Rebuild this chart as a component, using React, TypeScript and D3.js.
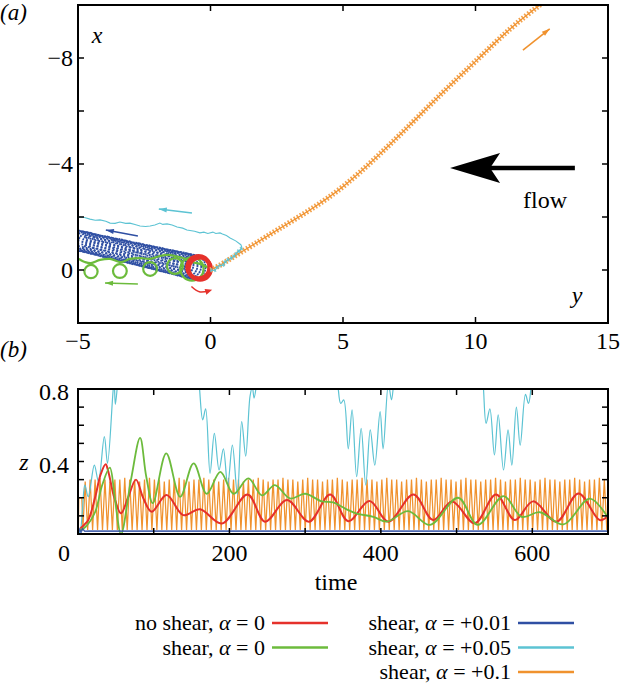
import React from 'react';
import * as d3 from 'd3';

// ---------- panel (a): trajectories in the (y, x) plane ----------
const A_H_DOMAIN = [-5, 15];
const A_V_DOMAIN = [-10, 2];
const A_H_TICKS = [-5, 0, 5, 10, 15];
const A_H_LABELS = ['−5', '0', '5', '10', '15'];
const A_V_TICKS = [-8, -6, -4, -2, 0];
const A_V_LABELS: [number, string][] = [[-8, '−8'], [-4, '−4'], [0, '0']];

// orange (alpha = +0.1): drift path
const ORANGE_TRACK: [number, number][] = [
  [0, 0], [0.25, -0.11], [0.85, -0.49], [1.6, -0.94], [2.51, -1.51], [3.75, -2.25],
  [5.0, -3.1], [6.28, -4.26], [7.53, -5.47], [8.77, -6.72], [10.06, -7.92],
  [11.3, -9.13], [12.43, -10], [13.2, -10.6],
];
// cyan (alpha = +0.05)
const CYAN_TRACK_WIGGLE: [number, number][] = [
  [0, 0], [0.17, 0.0], [0.3, -0.15], [0.47, -0.19], [0.6, -0.35], [0.85, -0.49], [0.95, -0.6], [1.19, -0.83],
];
const CYAN_TRACK: [number, number][] = [
  [1.19, -0.83], [1.15, -0.95], [1.11, -0.98], [0.95, -1.1], [0.74, -1.21], [0.6, -1.3], [0.45, -1.36],
  [0.36, -1.4], [0.2, -1.38], [0.09, -1.43], [-0.1, -1.38], [-0.25, -1.43], [-0.4, -1.4],
  [-0.6, -1.46], [-0.89, -1.51], [-1.05, -1.58], [-1.26, -1.62], [-1.45, -1.7], [-1.64, -1.74],
  [-1.8, -1.72], [-1.91, -1.77], [-2.1, -1.7], [-2.28, -1.66], [-2.45, -1.64], [-2.66, -1.66],
  [-2.85, -1.72], [-3.04, -1.77], [-3.2, -1.76], [-3.42, -1.81], [-3.6, -1.76], [-3.79, -1.77],
  [-3.95, -1.84], [-4.17, -1.89], [-4.35, -1.88], [-4.55, -1.92], [-4.75, -1.98], [-4.92, -2.0], [-5.1, -2.0],
];
// dark blue (alpha = +0.01): loop centres [y, x, radius]
const BLUE_LOOPS: [number, number, number][] = [
  [-0.50, -0.08, 0.46], [-0.65, -0.11, 0.46], [-0.80, -0.15, 0.45], [-0.94, -0.18, 0.45],
  [-1.09, -0.22, 0.45], [-1.24, -0.25, 0.44], [-1.38, -0.28, 0.44], [-1.53, -0.32, 0.44],
  [-1.68, -0.35, 0.43], [-1.82, -0.38, 0.43], [-1.97, -0.42, 0.43], [-2.12, -0.45, 0.42],
  [-2.26, -0.49, 0.42], [-2.41, -0.52, 0.42], [-2.56, -0.55, 0.41], [-2.70, -0.59, 0.41],
  [-2.85, -0.62, 0.41], [-3.00, -0.65, 0.40], [-3.14, -0.69, 0.40], [-3.29, -0.72, 0.40],
  [-3.44, -0.76, 0.40], [-3.58, -0.79, 0.39], [-3.73, -0.82, 0.39], [-3.88, -0.86, 0.39],
  [-4.02, -0.89, 0.39], [-4.17, -0.92, 0.38], [-4.32, -0.96, 0.38], [-4.46, -0.99, 0.38],
  [-4.61, -1.03, 0.38], [-4.75, -1.06, 0.38], [-4.90, -1.09, 0.38], [-5.05, -1.12, 0.38],
];
// green (shear, alpha = 0): chain and loops
const GREEN_CHAIN: [number, number][] = [
  [0.0, -0.04], [-0.4, -0.23], [-0.7, -0.3], [-1.04, -0.45], [-1.34, -0.53], [-1.6, -0.57],
  [-1.91, -0.53], [-2.28, -0.42], [-2.66, -0.45], [-3.04, -0.42], [-3.38, -0.3], [-3.79, -0.42],
  [-4.17, -0.38], [-4.51, -0.26], [-4.74, -0.3], [-5.0, -0.42], [-5.2, -0.45],
];
const GREEN_LOOPS: [number, number, number][] = [
  [-4.51, 0.06, 0.25], [-3.42, 0.04, 0.26], [-2.28, -0.04, 0.26], [-1.34, -0.15, 0.3], [-0.7, -0.04, 0.44],
];
// red (no shear, alpha = 0): ring
const RED_RING: [number, number, number] = [-0.45, -0.1, 0.42];
const RED_TURN: [number, number][] = [[-0.72, 0.62], [-0.42, 0.82], [-0.05, 0.78]];

// direction arrows [from, to]
const ARROWS_A: { c: string; from: [number, number]; to: [number, number] }[] = [
  { c: '#5cc3d3', from: [-0.70, -2.15], to: [-1.95, -2.3] },
  { c: '#2f4fa3', from: [-2.74, -1.28], to: [-3.95, -1.51] },
  { c: '#6cbb3c', from: [-2.74, 0.53], to: [-3.98, 0.49] },
  { c: '#f0922e', from: [11.79, -8.3], to: [12.8, -9.1] },
];
const FLOW_FROM: [number, number] = [13.75, -3.85];
const FLOW_TO: [number, number] = [9.04, -3.85];

// ---------- panel (b): z versus time ----------
const T_DOMAIN = [0, 700];
const Z_DOMAIN = [0, 0.8];
const T_TICKS = [100, 200, 300, 400, 500, 600];
const T_LABELS = [0, 200, 400, 600];
const Z_TICKS = [0.1, 0.2, 0.3, 0.4, 0.5, 0.6, 0.7];
const Z_LABELS: [number, string][] = [[0.4, '0.4'], [0.8, '0.8']];

const RED_Z: [number, number][] = [
  [3, 0.03], [8, 0.05], [13.6, 0.077], [22.5, 0.2], [30, 0.33], [36.5, 0.385], [40, 0.345],
  [48, 0.2], [56.8, 0.114], [66, 0.2], [76.6, 0.3], [86, 0.2], [97.3, 0.123], [117, 0.215],
  [139, 0.104], [161, 0.137], [190, 0.058], [224, 0.218], [247, 0.068], [276, 0.187],
  [305, 0.068], [333, 0.218], [357, 0.071], [385, 0.182], [410, 0.068], [443, 0.218],
  [469, 0.077], [494, 0.18], [524, 0.059], [552, 0.218], [577, 0.077], [601, 0.18],
  [632, 0.068], [661, 0.224], [689, 0.077], [700, 0.1],
];
const GREEN_Z: [number, number][] = [
  [3, 0.02], [10, 0.04], [22.5, 0.12], [32, 0.27], [42, 0.366], [48.6, 0.2], [56.8, 0.0],
  [70, 0.3], [82, 0.53], [90, 0.32], [98.8, 0.17], [116.5, 0.445], [135, 0.205], [152.7, 0.39],
  [170, 0.222], [188, 0.343], [205.5, 0.222], [225, 0.307], [243, 0.213], [260, 0.27],
  [280, 0.196], [300, 0.222], [322, 0.18], [337, 0.175], [353, 0.14], [368, 0.113],
  [390, 0.095], [408, 0.068], [436, 0.126], [465, 0.05], [502, 0.2], [528, 0.05],
  [562, 0.209], [586, 0.095], [610, 0.12], [641, 0.053], [676, 0.195], [700, 0.09],
];
const CYAN_Z: [number, number][] = [
  [0, 0.0], [2.6, 0.01], [5.7, 0.124], [9, 0.27], [13.6, 0.206], [21.6, 0.38], [27, 0.29],
  [34.8, 0.537], [39, 0.39], [46.6, 0.8], [47.8, 0.83], [49.3, 0.715], [52.4, 0.83], [56, 0.95],
  [157, 0.95], [160, 0.83], [164.7, 0.63], [168.6, 0.69], [174.4, 0.335], [180.1, 0.555],
  [186.3, 0.353], [192, 0.47], [197.7, 0.27], [203.9, 0.49], [210.5, 0.22], [216.2, 0.62],
  [221.5, 0.43], [227.2, 0.76], [230.3, 0.81], [232.5, 0.75], [236, 0.83], [240, 0.95],
  [339, 0.95], [343, 0.83], [347, 0.72], [351, 0.74], [357, 0.47], [362, 0.685], [368, 0.316],
  [374, 0.583], [380, 0.27], [386, 0.574], [392, 0.38], [399, 0.675], [403, 0.47], [410, 0.83],
  [414, 0.74], [417, 0.83], [421, 0.95], [531, 0.95], [535, 0.83], [539, 0.61], [544, 0.69],
  [550, 0.436], [555, 0.657], [562, 0.353], [568, 0.574], [573, 0.38], [579, 0.7], [584, 0.49],
  [591, 0.77], [595, 0.72], [599, 0.83], [603, 0.95], [700, 0.95],
];
const BLUE_Z: [number, number][] = [
  [0, 0.0], [2, 0.025], [4, 0.01], [6, 0.028], [9, 0.015], [14, 0.016], [700, 0.016],
];
const ORANGE_START: [number, number][] = [[0.5, 0.02], [1, 0.2], [5, 0.2], [6.5, 0.03]];
const ORANGE_PEAK_T0 = 9.5;
const ORANGE_PERIOD = 6.53;
const ORANGE_LOW = 0.022;
const ORANGE_PEAKS = [
  0.29, 0.30, 0.30, 0.31, 0.30, 0.29, 0.30, 0.30, 0.31, 0.30,
  0.30, 0.29, 0.30, 0.31, 0.30, 0.30, 0.29, 0.30, 0.30, 0.31,
  0.30, 0.29, 0.30, 0.30, 0.31, 0.30, 0.30, 0.29, 0.30, 0.31,
  0.30, 0.30, 0.29, 0.30, 0.30, 0.31, 0.30, 0.29, 0.30, 0.30,
  0.31, 0.30, 0.30, 0.29, 0.30, 0.31, 0.30, 0.30, 0.29, 0.30,
  0.30, 0.31, 0.30, 0.29, 0.30, 0.30, 0.31, 0.30, 0.30, 0.29,
  0.30, 0.31, 0.30, 0.30, 0.29, 0.30, 0.30, 0.31, 0.30, 0.29,
  0.30, 0.30, 0.31, 0.30, 0.30, 0.29, 0.30, 0.31, 0.30, 0.30,
  0.29, 0.30, 0.30, 0.31, 0.30, 0.29, 0.30, 0.30, 0.31, 0.30,
  0.30, 0.29, 0.30, 0.31, 0.30, 0.30, 0.29, 0.30, 0.30, 0.31,
  0.30, 0.29, 0.30, 0.30, 0.31, 0.30,
];

const LEGEND: { label: string; value: string; color: string; col: number; row: number }[] = [
  { label: 'no shear, ', value: '0', color: '#e5312b', col: 0, row: 0 },
  { label: 'shear, ', value: '0', color: '#6cbb3c', col: 0, row: 1 },
  { label: 'shear, ', value: '+0.01', color: '#2f4fa3', col: 1, row: 0 },
  { label: 'shear, ', value: '+0.05', color: '#5cc3d3', col: 1, row: 1 },
  { label: 'shear, ', value: '+0.1', color: '#f0922e', col: 1, row: 2 },
];

const FONT = 'Liberation Serif';
const C = { red: '#e5312b', green: '#6cbb3c', blue: '#2f4fa3', cyan: '#5cc3d3', orange: '#f0922e' };

export default function App() {
  const aL = 78, aR = 608, aT = 5, aB = 323;
  const sy = d3.scaleLinear().domain(A_H_DOMAIN).range([aL, aR]);
  const sx = d3.scaleLinear().domain(A_V_DOMAIN).range([aT, aB]);
  const lineA = d3.line<[number, number]>().x((d) => sy(d[0])).y((d) => sx(d[1]));
  const unitA = sy(1) - sy(0);

  const bL = 78, bR = 608, bT = 389, bB = 534;
  const st = d3.scaleLinear().domain(T_DOMAIN).range([bL, bR]);
  const sz = d3.scaleLinear().domain(Z_DOMAIN).range([bB, bT]);
  const lineB = d3.line<[number, number]>().x((d) => st(d[0])).y((d) => sz(d[1]));

  const orangeZ: [number, number][] = [...ORANGE_START];
  ORANGE_PEAKS.forEach((p, i) => {
    const t = ORANGE_PEAK_T0 + i * ORANGE_PERIOD;
    orangeZ.push([t, p]);
    orangeZ.push([t + ORANGE_PERIOD / 2, ORANGE_LOW]);
  });

  const smooth = d3.curveCatmullRom.alpha(0.5);
  const tick = 6;

  const arrowHead = (x1: number, y1: number, x2: number, y2: number, len: number, half: number) => {
    const a = Math.atan2(y2 - y1, x2 - x1);
    const bx = x2 - len * Math.cos(a), by = y2 - len * Math.sin(a);
    const px = -Math.sin(a) * half, py = Math.cos(a) * half;
    return `M${x2},${y2}L${bx + px},${by + py}L${bx - px},${by - py}Z`;
  };

  const flowX1 = sy(FLOW_FROM[0]), flowX2 = sy(FLOW_TO[0]), flowY = sx(FLOW_FROM[1]);
  const orangePath = lineA.curve(d3.curveBasis)(ORANGE_TRACK) || '';
  const tf = { fontFamily: FONT } as React.CSSProperties;

  return (
    <svg width={620} height={695} style={{ position: 'absolute', left: 0, top: 0, background: '#fff' }}>
      <defs>
        <clipPath id="clipA"><rect x={aL} y={aT} width={aR - aL} height={aB - aT} /></clipPath>
        <clipPath id="clipB"><rect x={bL} y={bT} width={bR - bL} height={bB - bT} /></clipPath>
      </defs>

      {/* ---------------- panel (a) ---------------- */}
      <text x={0} y={20} fontSize={23} fontStyle="italic" style={tf}>(a)</text>
      <g clipPath="url(#clipA)">
        <path d={lineA.curve(d3.curveLinear)(CYAN_TRACK) || ''} fill="none" stroke={C.cyan} strokeWidth={1.1} />
        {BLUE_LOOPS.map((d, i) => (
          <circle key={i} cx={sy(d[0])} cy={sx(d[1])} r={d[2] * unitA} fill="none" stroke={C.blue}
            strokeWidth={1.8} strokeDasharray="2 0.7" />
        ))}
        <path d={lineA.curve(smooth)(GREEN_CHAIN) || ''} fill="none" stroke={C.green} strokeWidth={2.2} />
        {GREEN_LOOPS.map((d, i) => (
          <circle key={i} cx={sy(d[0])} cy={sx(d[1])} r={d[2] * unitA} fill="none" stroke={C.green}
            strokeWidth={2.2} />
        ))}
        <circle cx={sy(RED_RING[0])} cy={sx(RED_RING[1])} r={RED_RING[2] * unitA} fill="none" stroke={C.red} strokeWidth={4.5} />
        <circle cx={sy(RED_RING[0]) + 1.5} cy={sx(RED_RING[1]) + 1.5} r={RED_RING[2] * unitA} fill="none" stroke={C.red} strokeWidth={3.5} />
        <path d={orangePath} fill="none" stroke="#f4a24c" strokeWidth={5.5} strokeDasharray="1.6 1.9" />
        <path d={orangePath} fill="none" stroke={C.orange} strokeWidth={1.2} />
        <path d={lineA.curve(smooth)(CYAN_TRACK_WIGGLE) || ''} fill="none" stroke={C.cyan} strokeWidth={4}
          strokeDasharray="1.5 2" opacity={0.8} />
        <path d={lineA.curve(smooth)(CYAN_TRACK_WIGGLE) || ''} fill="none" stroke={C.cyan} strokeWidth={1.2} />
        {(() => {
          const pts = RED_TURN.map((d) => [sy(d[0]), sx(d[1])] as [number, number]);
          const p = d3.line().curve(d3.curveNatural)(pts) || '';
          const [a, b] = [pts[1], pts[2]];
          return (
            <g>
              <path d={p} fill="none" stroke={C.red} strokeWidth={1.5} />
              <path d={arrowHead(a[0], a[1] + 2, b[0] + 3, b[1] - 1, 7, 3)} fill={C.red} />
            </g>
          );
        })()}
        {ARROWS_A.map((a, i) => {
          const x1 = sy(a.from[0]), y1 = sx(a.from[1]), x2 = sy(a.to[0]), y2 = sx(a.to[1]);
          return (
            <g key={i}>
              <line x1={x1} y1={y1} x2={x2} y2={y2} stroke={a.c} strokeWidth={1.6} />
              <path d={arrowHead(x1, y1, x2, y2, 8, 2.6)} fill={a.c} />
            </g>
          );
        })}
      </g>
      <line x1={flowX1} y1={flowY} x2={flowX2 + 30} y2={flowY} stroke="#000" strokeWidth={4.5} />
      <path d={`M${flowX2},${flowY}L${flowX2 + 50},${flowY - 15}L${flowX2 + 40},${flowY}L${flowX2 + 50},${flowY + 15}Z`} fill="#000" />
      <text x={545} y={208} fontSize={24} textAnchor="middle" style={tf}>flow</text>
      <text x={97} y={43} fontSize={24} fontStyle="italic" textAnchor="middle" style={tf}>x</text>
      <text x={577} y={303} fontSize={24} fontStyle="italic" textAnchor="middle" style={tf}>y</text>

      <rect x={aL} y={aT} width={aR - aL} height={aB - aT} fill="none" stroke="#000" strokeWidth={2} />
      {A_H_TICKS.filter((v) => v > A_H_DOMAIN[0] && v < A_H_DOMAIN[1]).map((v) => (
        <g key={v}>
          <line x1={sy(v)} x2={sy(v)} y1={aB} y2={aB - tick} stroke="#000" strokeWidth={1.5} />
          <line x1={sy(v)} x2={sy(v)} y1={aT} y2={aT + tick} stroke="#000" strokeWidth={1.5} />
        </g>
      ))}
      {A_V_TICKS.map((v) => (
        <g key={v}>
          <line x1={aL} x2={aL + tick} y1={sx(v)} y2={sx(v)} stroke="#000" strokeWidth={1.5} />
          <line x1={aR} x2={aR - tick} y1={sx(v)} y2={sx(v)} stroke="#000" strokeWidth={1.5} />
        </g>
      ))}
      {A_H_TICKS.map((v, i) => (
        <text key={v} x={sy(v)} y={349} fontSize={24} textAnchor="middle" style={tf}>{A_H_LABELS[i]}</text>
      ))}
      {A_V_LABELS.map(([v, s]) => (
        <text key={v} x={73} y={sx(v) + 8} fontSize={24} textAnchor="end" style={tf}>{s}</text>
      ))}

      {/* ---------------- panel (b) ---------------- */}
      <text x={0} y={357} fontSize={23} fontStyle="italic" style={tf}>(b)</text>
      <g clipPath="url(#clipB)">
        <path d={lineB.curve(d3.curveLinear)(orangeZ) || ''} fill="none" stroke={C.orange} strokeWidth={1.25} />
        <path d={lineB.curve(smooth)(CYAN_Z) || ''} fill="none" stroke={C.cyan} strokeWidth={1.2} />
        <path d={lineB.curve(smooth)(RED_Z) || ''} fill="none" stroke={C.red} strokeWidth={2} />
        <path d={lineB.curve(smooth)(GREEN_Z) || ''} fill="none" stroke={C.green} strokeWidth={1.8} />
        <path d={lineB.curve(d3.curveLinear)(BLUE_Z) || ''} fill="none" stroke={C.blue} strokeWidth={1.6} opacity={0.85} />
      </g>
      <rect x={bL} y={bT} width={bR - bL} height={bB - bT} fill="none" stroke="#000" strokeWidth={2} />
      {T_TICKS.map((v) => (
        <g key={v}>
          <line x1={st(v)} x2={st(v)} y1={bB} y2={bB - tick} stroke="#000" strokeWidth={1.5} />
          <line x1={st(v)} x2={st(v)} y1={bT} y2={bT + tick} stroke="#000" strokeWidth={1.5} />
        </g>
      ))}
      {Z_TICKS.map((v) => (
        <g key={v}>
          <line x1={bL} x2={bL + tick} y1={sz(v)} y2={sz(v)} stroke="#000" strokeWidth={1.5} />
          <line x1={bR} x2={bR - tick} y1={sz(v)} y2={sz(v)} stroke="#000" strokeWidth={1.5} />
        </g>
      ))}
      {T_LABELS.map((v) => (
        <text key={v} x={v === 0 ? st(v) - 14 : st(v)} y={561} fontSize={24} textAnchor="middle" style={tf}>{v}</text>
      ))}
      {Z_LABELS.map(([v, s]) => (
        <text key={v} x={69} y={sz(v) + 11} fontSize={24} textAnchor="end" style={tf}>{s}</text>
      ))}
      <text x={24} y={470} fontSize={24} fontStyle="italic" textAnchor="middle" style={tf}>z</text>
      <text x={336} y={590} fontSize={24} textAnchor="middle" style={tf}>time</text>

      {LEGEND.map((l, i) => {
        const xEnd = l.col === 0 ? 265 : 511;
        const y = 630 + l.row * 24.5;
        return (
          <g key={i}>
            <text x={xEnd} y={y} fontSize={22} textAnchor="end" style={tf}>
              {l.label}<tspan fontStyle="italic">α</tspan>{' = ' + l.value}
            </text>
            <line x1={xEnd + 7} x2={xEnd + 63} y1={y - 7} y2={y - 7} stroke={l.color} strokeWidth={2.5} />
          </g>
        );
      })}
    </svg>
  );
}
